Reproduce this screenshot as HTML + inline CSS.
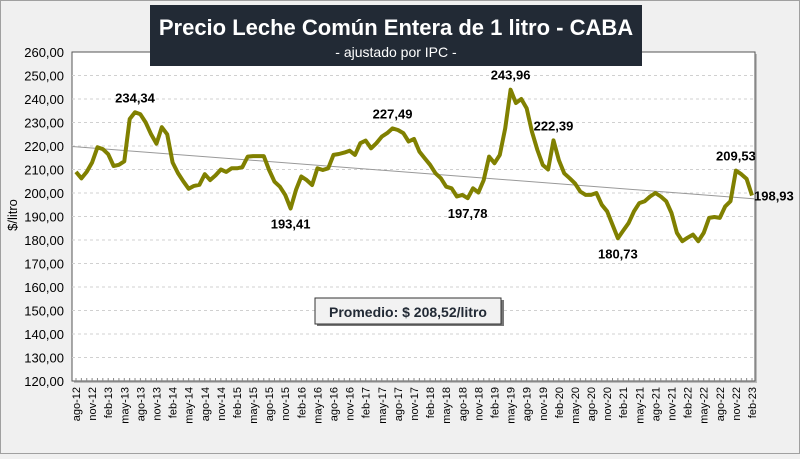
<!DOCTYPE html>
<html><head><meta charset="utf-8"><style>
body{margin:0;width:800px;height:454px;overflow:hidden;background:#f0f0f0;font-family:"Liberation Sans",sans-serif}
</style></head><body>
<svg id="chart" width="800" height="454" xmlns="http://www.w3.org/2000/svg" font-family="Liberation Sans, sans-serif">
<rect x="0.5" y="0.5" width="799" height="453" fill="#f0f0f0" stroke="#a0a0a0"/>
<rect x="74" y="54" width="683" height="329" fill="#bbb"/>
<rect x="72" y="52" width="683" height="329" fill="#fff" stroke="#555" stroke-width="1"/>
<g id="grid"></g><g id="yt"></g><g id="xt"></g>
<line id="trend" stroke="#999" stroke-width="1"/>
<path id="line" fill="none" stroke="#808000" stroke-width="4" stroke-linejoin="round"/>
<g id="lbl"></g>
<text x="0" y="0" transform="translate(17,215) rotate(-90)" text-anchor="middle" font-size="13" fill="#000">$/litro</text>
<rect x="150" y="5" width="492" height="61" fill="#222a35"/>
<text x="396" y="35" text-anchor="middle" font-size="22" font-weight="bold" fill="#fff">Precio Leche Común Entera de 1 litro - CABA</text>
<text x="396" y="57" text-anchor="middle" font-size="14" fill="#fff">- ajustado por IPC -</text>
<rect x="317" y="300" width="187" height="26" fill="#777"/>
<rect x="315" y="298" width="186" height="26" fill="#f2f2f2" stroke="#333"/>
<text x="408" y="317" text-anchor="middle" font-size="14" font-weight="bold" fill="#222a35">Promedio: $ 208,52/litro</text>
</svg>
<script>
const months=["ago","sep","oct","nov","dic","ene","feb","mar","abr","may","jun","jul"];
const values=[209,206.2,209,213,219.5,218.7,216.5,211.5,212,213.5,231.5,234.34,233.5,230,225,221,228,225,213,208.5,205,201.8,203,203.5,208,205.5,207.5,210,209,210.5,210.5,211,215.5,215.7,215.7,215.7,209.8,204.8,202.7,199.2,193.41,201.3,207,205.5,203.4,210.5,209.8,210.5,216.2,216.6,217.2,218,216.2,221.2,222.3,219,221.2,224,225.5,227.49,226.8,225.5,221.9,223,217.6,214.8,212,208.4,206.3,202.7,202,198.5,199.2,197.78,202,200.2,205.5,215.5,212.7,216.2,227.5,243.96,238.3,240,236,226,218.3,211.9,210,222.39,213.9,208.4,206.3,204.1,200.6,199.2,199.2,200,195,192.2,186.5,180.73,184,187.2,192.2,195.7,196.5,198.5,200,198.5,196.5,191.5,183,179.5,181,182.3,179.5,183,189.4,189.8,189.4,194.3,196.5,209.53,208,206,198.93];
const yTicks=[120,130,140,150,160,170,180,190,200,210,220,230,240,250,260];
const labelIdx=[11,40,59,73,81,89,101,123,126];
const trendVals=[219.8,197.5];
const NS="http://www.w3.org/2000/svg";
const x0=76,x1=752,yTop=52,yBot=381;
const X=i=>x0+(x1-x0)*i/(values.length-1);
const Y=v=>yBot-(v-120)/140*(yBot-yTop);
const fmt=v=>v.toFixed(2).replace('.',',');
function mk(t,a,p){const e=document.createElementNS(NS,t);for(const k in a)e.setAttribute(k,a[k]);p.appendChild(e);return e;}
const grid=document.getElementById('grid'),yt=document.getElementById('yt'),xt=document.getElementById('xt'),lbl=document.getElementById('lbl');
yTicks.forEach(v=>{
 if(v>120&&v<260){const g=mk('line',{x1:72,x2:755,y1:Y(v),y2:Y(v),stroke:'#d0d0d0','stroke-dasharray':'3,3'},grid);
 
 }
 const t=mk('text',{x:64,y:Y(v)+5,'text-anchor':'end','font-size':13,fill:'#000'},yt);t.textContent=fmt(v);
 
 
});
for(let i=0;i<values.length;i++){
 const tk=mk('line',{x1:X(i),x2:X(i),y1:yBot,y2:yBot-3,stroke:'#888'},xt);
 
 
 if(i%3===0){const m=months[i%12],yr=12+Math.floor((i+7)/12);
 const t=mk('text',{transform:`translate(${X(i)+4},${yBot+6}) rotate(-90)`,'text-anchor':'end','font-size':11,fill:'#000'},xt);
 t.textContent=m+'-'+yr;
 
 }
}
document.getElementById('line').setAttribute('d',values.map((v,i)=>(i?'L':'M')+X(i).toFixed(1)+','+Y(v).toFixed(1)).join(''));
const tr=document.getElementById('trend');
tr.setAttribute('x1',72);tr.setAttribute('x2',755);tr.setAttribute('y1',Y(trendVals[0]));tr.setAttribute('y2',Y(trendVals[1]));
labelIdx.forEach(i=>{
 const v=values[i],last=i===values.length-1;
 const low=i>0&&i<values.length-1&&v<values[i-1]&&v<values[i+1];
 const t=mk('text',{x:last?X(i)+2:X(i),y:last?Y(v)+5:(low?Y(v)+20:Y(v)-10),'text-anchor':last?'start':'middle','font-size':13,'font-weight':'bold',fill:'#000'},lbl);
 t.textContent=fmt(v);
 
 
});
</script>
</body></html>
